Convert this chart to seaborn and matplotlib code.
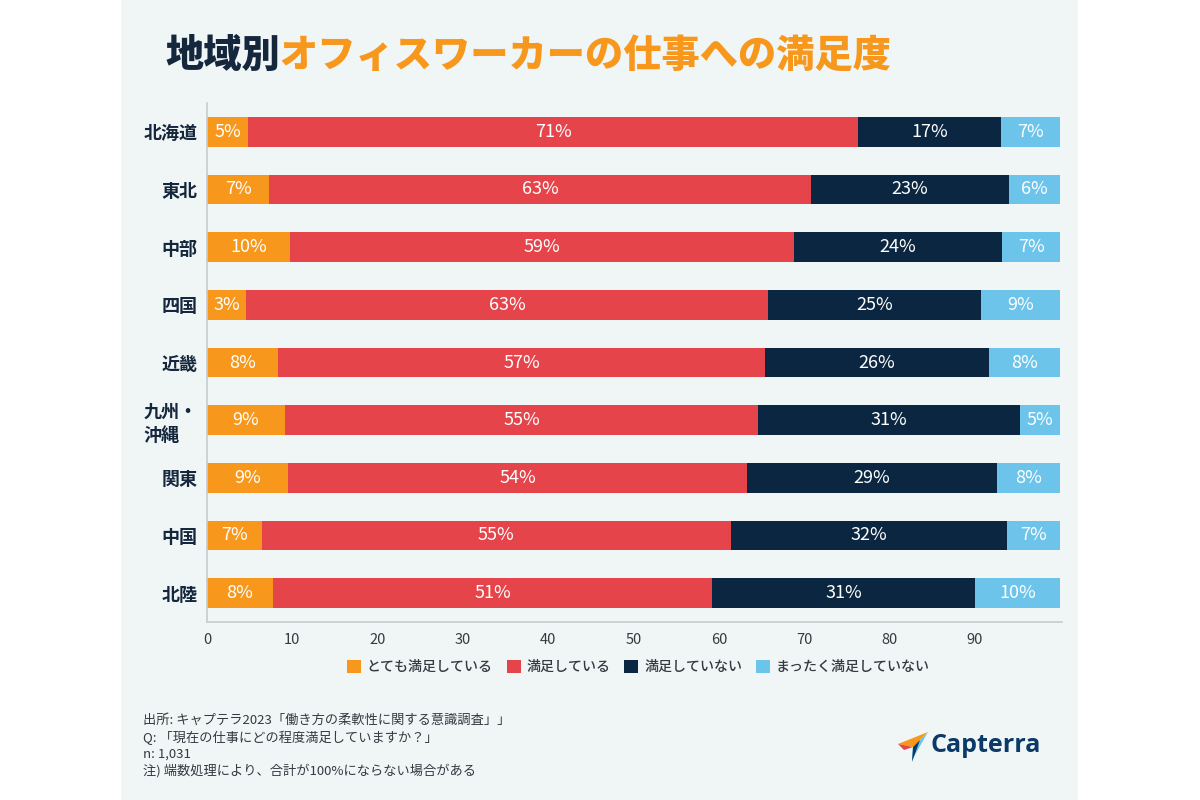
import matplotlib
matplotlib.use('Agg')
import matplotlib.pyplot as plt
import seaborn as sns
import pandas as pd
import numpy as np
from matplotlib.patches import Rectangle, Polygon, Patch

# ---- data ----
regions = ['北海道', '東北', '中部', '四国', '近畿', '九州・\n沖縄', '関東', '中国', '北陸']
series_names = ['とても満足している', '満足している', '満足していない', 'まったく満足していない']
very_satisfied = [4.8, 7.3, 9.7, 4.6, 8.3, 9.1, 9.5, 6.4, 7.7]
satisfied = [71.5, 63.5, 59.1, 61.1, 57.1, 55.5, 53.8, 55.0, 51.5]
not_satisfied = [16.7, 23.2, 24.4, 25.0, 26.2, 30.7, 29.3, 32.4, 30.8]
not_at_all = [7.0, 6.0, 6.8, 9.3, 8.4, 4.7, 7.4, 6.2, 10.0]
label_very = [5, 7, 10, 3, 8, 9, 9, 7, 8]
label_sat = [71, 63, 59, 63, 57, 55, 54, 55, 51]
label_not = [17, 23, 24, 25, 26, 31, 29, 32, 31]
label_none = [7, 6, 7, 9, 8, 5, 8, 7, 10]
xticks = [0, 10, 20, 30, 40, 50, 60, 70, 80, 90]

colors = ['#F7981D', '#E5454A', '#0B2641', '#6CC4EB']
NAVY = '#14273d'
TEXT = '#333a40'
BG = '#f0f5f6'

sns.set_theme(style='white')
plt.rcParams['font.family'] = ['Noto Sans CJK JP', 'DejaVu Sans']

fig = plt.figure(figsize=(12, 8), dpi=100)
fig.patch.set_facecolor('white')
fig.patches.append(Rectangle((121 / 1200, 0), (1078 - 121) / 1200, 1,
                             transform=fig.transFigure, facecolor=BG,
                             edgecolor='none', zorder=-10))

ax = fig.add_axes([207 / 1200, 1 - 622 / 800, (1062 - 207) / 1200, (622 - 103) / 800])
ax.set_facecolor(BG)

series = [very_satisfied, satisfied, not_satisfied, not_at_all]
labels = [label_very, label_sat, label_not, label_none]
cum = np.cumsum(np.array(series), axis=0)
df = pd.DataFrame({'region': regions})
for k in range(4):
    df[f'cum{k}'] = cum[k]

# draw cumulative layers from the rightmost series to the left
for k in [3, 2, 1, 0]:
    sns.barplot(data=df, x=f'cum{k}', y='region', order=regions, orient='h',
                color=colors[k], saturation=1, width=0.52, ax=ax,
                edgecolor='none', linewidth=0)

# value labels
for k in range(4):
    left = cum[k] - np.array(series[k])
    for i, (l, w, lab) in enumerate(zip(left, series[k], labels[k])):
        ax.text(l + w / 2, i, f'{lab}%', ha='center', va='center',
                color='white', fontsize=13)

ax.set_xlim(0, 100.2)
ax.set_ylim(8.5, -0.5)
ax.set_xticks(xticks)
ax.set_xticklabels([str(t) for t in xticks], fontsize=10.5, color=TEXT)
ax.set_xlabel('')
ax.set_ylabel('')
ax.tick_params(axis='y', labelsize=13, labelcolor=NAVY, length=3, color='#c5cbcf', pad=4)
ax.tick_params(axis='x', length=4, color='#c5cbcf', pad=6, direction='inout')
for lab in ax.get_yticklabels():
    lab.set_fontweight('semibold')
    lab.set_linespacing(1.25)
    lab.set_multialignment('left')
for side in ['top', 'right']:
    ax.spines[side].set_visible(False)
for side in ['left', 'bottom']:
    ax.spines[side].set_color('#c5cbcf')
    ax.spines[side].set_linewidth(1.2)

# legend
handles = [Patch(facecolor=c, edgecolor='none') for c in colors]
leg = fig.legend(handles, series_names, loc='center', ncol=4,
                 bbox_to_anchor=(0.532, 1 - 667 / 800), frameon=False,
                 fontsize=10.1, handlelength=1.0, handleheight=1.0,
                 handletextpad=0.4, columnspacing=1.0)
for t in leg.get_texts():
    t.set_color(TEXT)
    t.set_fontweight('medium')

# title in two colours
t1 = fig.text(165 / 1200, 1 - 56 / 800, '地域別', fontsize=27.5, fontweight='heavy',
              color=NAVY, va='center', ha='left')
fig.canvas.draw()
bb = t1.get_window_extent(renderer=fig.canvas.get_renderer())
x2 = bb.x1 / fig.bbox.width
fig.text(x2, 1 - 56 / 800, 'オフィスワーカーの仕事への満足度', fontsize=27.5,
         fontweight='heavy', color='#F7981D', va='center', ha='left')

# footnote
fig.text(143 / 1200, 1 - 714 / 800,
         '出所: キャプテラ2023「働き方の柔軟性に関する意識調査」」\n'
         'Q: 「現在の仕事にどの程度満足していますか？」\n'
         'n: 1,031\n'
         '注) 端数処理により、合計が100%にならない場合がある',
         fontsize=9.5, color=TEXT, va='top', ha='left', linespacing=1.3)

# Capterra logo
def P(x, y):
    return (x / 1200, 1 - y / 800)
for pts, c in [([P(898, 744), P(928, 732), P(913, 747)], '#F7981D'),
               ([P(898, 744), P(913, 747), P(904, 750)], '#E5454A'),
               ([P(928, 732), P(913, 747), P(912, 760)], '#6CC4EB'),
               ([P(913, 747), P(912, 762), P(920, 740)], '#0B3A66')]:
    fig.patches.append(Polygon(pts, closed=True, transform=fig.transFigure,
                               facecolor=c, edgecolor='none'))
fig.text(931 / 1200, 1 - 746 / 800, 'Capterra', fontsize=18, fontweight='bold',
         color='#0B3A66', va='center', ha='left', family=['Open Sans', 'DejaVu Sans'])

fig.savefig('out.png', dpi=100, facecolor=fig.get_facecolor())
